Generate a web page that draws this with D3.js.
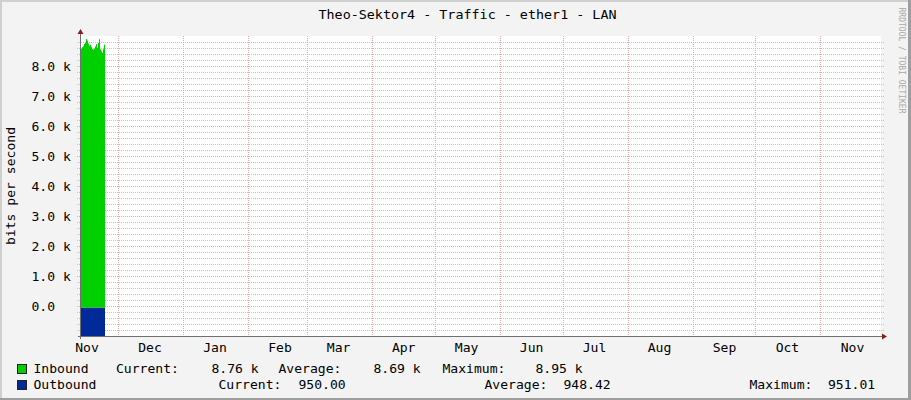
<!DOCTYPE html>
<html>
<head>
<meta charset="utf-8">
<script src="https://cdn.jsdelivr.net/npm/d3@7"></script>
<style>
  body { margin: 0; background: #f3f3f3; }
  svg { display: block; }
  text { font-family: "DejaVu Sans Mono", monospace; fill: #000; }
</style>
</head>
<body>
<script>
// values (bits per second)
const inbound = [8620, 8680, 8710, 8790, 8830, 8950, 8900, 8800, 8730, 8760, 8690, 8620,
                 8580, 8630, 8700, 8780, 8650, 8820, 8940, 8610, 8540, 8490, 8610, 8760];
const outbound = [948, 949, 948, 947, 948, 949, 950, 949, 948, 947, 948, 949,
                  950, 951, 949, 948, 947, 948, 949, 950, 949, 948, 949, 950];
const yTickValues = [1000, 2000, 3000, 4000, 5000, 6000, 7000, 8000, 9000];
const yTickLabels = ["0.0", "1.0 k", "2.0 k", "3.0 k", "4.0 k", "5.0 k", "6.0 k", "7.0 k", "8.0 k"];
const monthLabels = ["Nov", "Dec", "Jan", "Feb", "Mar", "Apr", "May", "Jun", "Jul", "Aug", "Sep", "Oct", "Nov"];
const inboundLegend = ["Current:", "8.76 k", "Average:", "8.69 k", "Maximum:", "8.95 k"];
const outboundLegend = ["Current:", "950.00", "Average:", "948.42", "Maximum:", "951.01"];

const W = 911, H = 400;
const xStart = new Date(2022, 10, 13, 8, 36);
const xEnd = new Date(2023, 10, 29, 20, 36);
const stepHours = 11.45; // one rrd row per pixel

const svg = d3.select("body").append("svg")
  .attr("width", W).attr("height", H);

// frame
svg.append("rect").attr("width", W).attr("height", H).attr("fill", "#f3f3f3");
svg.append("rect").attr("x", 0).attr("y", 0).attr("width", W).attr("height", 2).attr("fill", "#cfcfcf");
svg.append("rect").attr("x", 0).attr("y", 0).attr("width", 2).attr("height", H).attr("fill", "#cfcfcf");
svg.append("rect").attr("x", 0).attr("y", H - 2).attr("width", W).attr("height", 2).attr("fill", "#9e9e9e");
svg.append("rect").attr("x", W - 3).attr("y", 0).attr("width", 3).attr("height", H).attr("fill", "#9e9e9e");

const x = d3.scaleTime().domain([xStart, xEnd]).range([81, 881]);
const y = d3.scaleLinear().domain([0, 10000]).range([336, 36]);

// canvas
svg.append("rect")
  .attr("x", x.range()[0]).attr("y", y.range()[1])
  .attr("width", x.range()[1] - x.range()[0]).attr("height", y.range()[0] - y.range()[1])
  .attr("fill", "#fff");

const grid = svg.append("g").attr("shape-rendering", "crispEdges");

// horizontal grid
d3.range(200, 10000, 200).forEach(v => {
  const major = v % 1000 === 0;
  grid.append("line")
    .attr("x1", 77).attr("x2", 884)
    .attr("y1", Math.round(y(v)) + 0.5).attr("y2", Math.round(y(v)) + 0.5)
    .attr("stroke", major ? "#eea5a5" : "#c4c4c4")
    .attr("stroke-dasharray", "1,1");
});

// vertical grid at month starts
d3.timeMonth.range(d3.timeMonth.ceil(xStart), xEnd).forEach(d => {
  grid.append("line")
    .attr("x1", Math.round(x(d)) + 0.5).attr("x2", Math.round(x(d)) + 0.5)
    .attr("y1", 36).attr("y2", 338)
    .attr("stroke", "#eea5a5")
    .attr("stroke-dasharray", "1,1");
});

// stacked data
const rows = inbound.map((v, i) => ({
  t: d3.timeHour.offset(xStart, Math.round(i * stepHours * 60) / 60),
  inbound: v, outbound: outbound[i]
}));
rows.push({ t: d3.timeMinute.offset(xStart, Math.round(rows.length * stepHours * 60)),
  inbound: inbound[inbound.length - 1], outbound: outbound[outbound.length - 1] });

const series = d3.stack().keys(["outbound", "inbound"])(rows);
const colors = { outbound: "#002A97", inbound: "#00CF00" };

const area = d3.area()
  .curve(d3.curveStepAfter)
  .x(d => x(d.data.t))
  .y0(d => y(d[0]))
  .y1(d => y(d[1]));

svg.append("g").selectAll("path").data(series).join("path")
  .attr("d", area)
  .attr("fill", d => colors[d.key]);

// axes lines with arrows
svg.append("line").attr("x1", 78).attr("x2", 882).attr("y1", 336.5).attr("y2", 336.5)
  .attr("stroke", "#707070").attr("shape-rendering", "crispEdges");
svg.append("line").attr("x1", 80.5).attr("x2", 80.5).attr("y1", 339).attr("y2", 33)
  .attr("stroke", "#707070").attr("shape-rendering", "crispEdges");
svg.append("path").attr("d", "M882,333.5 L887,336.5 L882,339.5 Z").attr("fill", "#8c1c1c");
svg.append("path").attr("d", "M77.5,34 L80.5,29 L83.5,34 Z").attr("fill", "#8c1c1c");

const SX = 1.09;

// y axis labels
const yAxis = svg.append("g")
  .attr("transform", "translate(80,0)")
  .call(d3.axisLeft(y).tickValues(yTickValues).tickSize(0)
    .tickFormat((d, i) => yTickLabels[i]));
yAxis.select(".domain").remove();
yAxis.selectAll("text")
  .attr("x", null).attr("dy", null)
  .attr("text-anchor", "start")
  .attr("transform", `translate(-48.5,4.5) scale(${SX},1)`)
  .style("font-size", "12px").style("font-family", "DejaVu Sans Mono").attr("fill", "#000");

// x axis month labels, centred in each month
const labelDates = d3.timeMonth.range(d3.timeMonth.floor(xStart), xEnd).map(d => d3.timeDay.offset(d, 15));
const xAxis = svg.append("g")
  .attr("transform", "translate(0,336)")
  .call(d3.axisBottom(x).tickValues(labelDates).tickSize(0)
    .tickFormat((d, i) => monthLabels[i]));
xAxis.select(".domain").remove();
xAxis.selectAll("text")
  .attr("y", null).attr("dy", null)
  .attr("transform", `translate(0,15.5) scale(${SX},1)`)
  .style("font-size", "12px").style("font-family", "DejaVu Sans Mono").attr("fill", "#000");

function label(x0, y0, s, size, sx, anchor) {
  return svg.append("text")
    .attr("transform", `translate(${x0},${y0}) scale(${sx},1)`)
    .attr("text-anchor", anchor || "start")
    .style("font-size", size + "px")
    .text(s);
}

// title
label(467.5, 19, "Theo-Sektor4 - Traffic - ether1 - LAN", 13, 1.03, "middle");

// vertical axis title
svg.append("text")
  .attr("transform", `translate(15,186) rotate(-90) scale(${SX},1)`)
  .attr("text-anchor", "middle")
  .style("font-size", "12px")
  .text("bits per second");

// watermark
svg.append("text")
  .attr("transform", "translate(899,60.5) rotate(90)")
  .attr("text-anchor", "middle")
  .style("font-size", "8px")
  .style("fill", "#a8a8a8")
  .text("RRDTOOL / TOBI OETIKER");

// legend
const row1X = [116, 211.5, 278.5, 373.5, 442.5, 535.5];
const row2X = [218.5, 298.5, 484.5, 563.5, 749.5, 828];
svg.append("rect").attr("x", 17.5).attr("y", 364.5).attr("width", 9).attr("height", 9)
  .attr("fill", colors.inbound).attr("stroke", "#222");
svg.append("rect").attr("x", 17.5).attr("y", 380.5).attr("width", 9).attr("height", 9)
  .attr("fill", colors.outbound).attr("stroke", "#222");
label(33.5, 373, "Inbound", 12, SX);
label(33.5, 389, "Outbound", 12, SX);
inboundLegend.forEach((s, i) => label(row1X[i], 373, s, 12, SX));
outboundLegend.forEach((s, i) => label(row2X[i], 389, s, 12, SX));
</script>
</body>
</html>
